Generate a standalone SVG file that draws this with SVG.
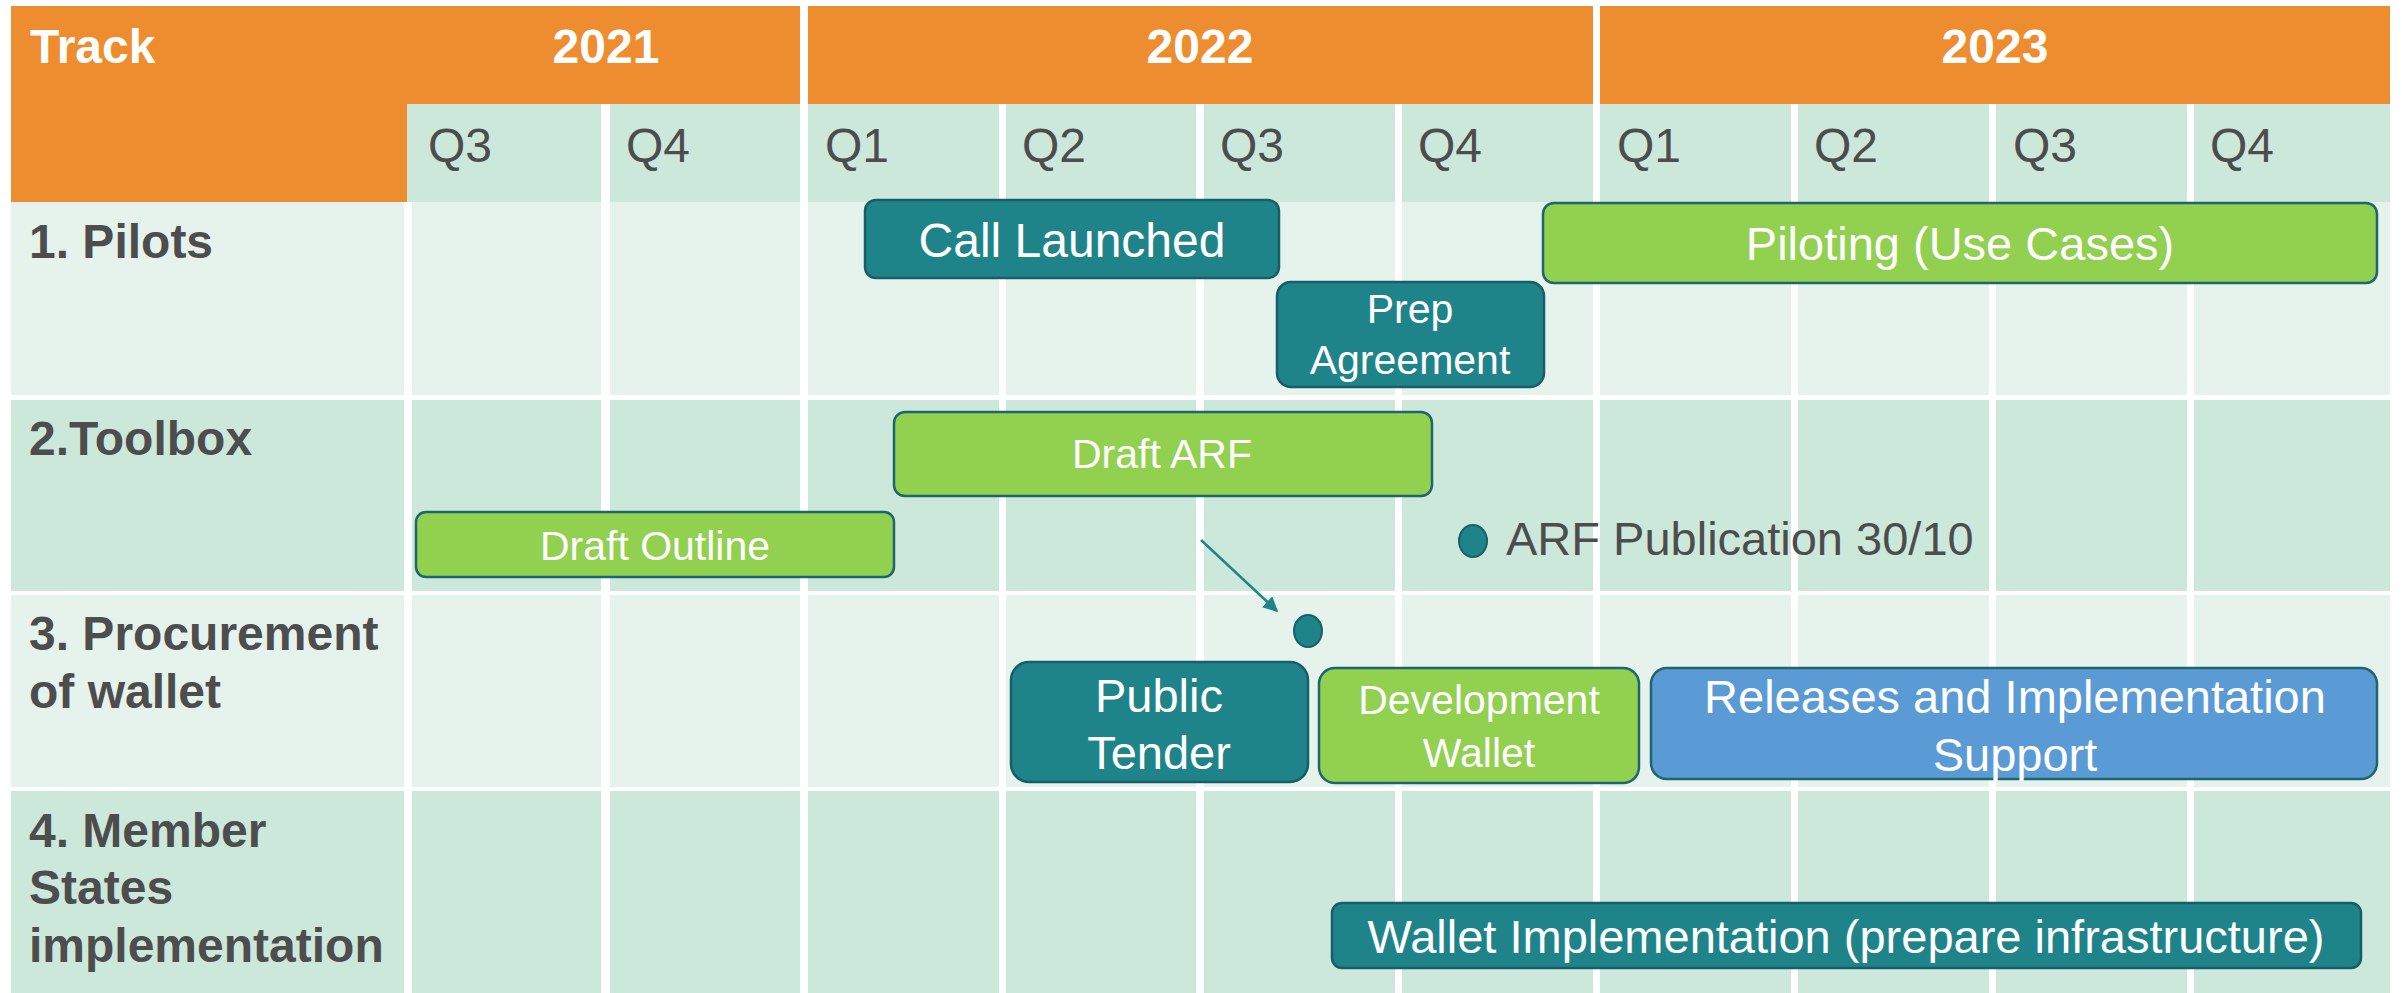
<svg xmlns="http://www.w3.org/2000/svg" width="2402" height="993" viewBox="0 0 2402 993">
<style>
.or{fill:#EE8D30}
.hd{fill:#CCE8DB}
.lt{fill:#E6F3EC}
.dk{fill:#CCE8DB}
.yr{font-family:"Liberation Sans",Arial,sans-serif;font-weight:bold;font-size:48px;fill:#FFFFFF;text-anchor:middle}
.trk{font-family:"Liberation Sans",Arial,sans-serif;font-weight:bold;font-size:48px;fill:#FFFFFF}
.q{font-family:"Liberation Sans",Arial,sans-serif;font-size:48px;fill:#4D4D4D}
.rl{font-family:"Liberation Sans",Arial,sans-serif;font-weight:bold;font-size:48px;fill:#4D4D4D}
.teal{fill:#1F8489;stroke:#175E68;stroke-width:2.5}
.green{fill:#92D050;stroke:#1F6570;stroke-width:2.5}
.blue{fill:#5B9BD5;stroke:#1F6570;stroke-width:2.5}
.bt{font-family:"Liberation Sans",Arial,sans-serif;font-size:47px;fill:#FFFFFF;text-anchor:middle}
.bs{font-family:"Liberation Sans",Arial,sans-serif;font-size:41px;fill:#FFFFFF;text-anchor:middle}
.ms{font-family:"Liberation Sans",Arial,sans-serif;font-size:47px;fill:#4D4D4D}
.dot{fill:#1F8489;stroke:#175E68;stroke-width:2}
</style>
<defs>
<marker id="ah" viewBox="0 0 10 10" refX="9" refY="5" markerWidth="6" markerHeight="6" orient="auto" markerUnits="strokeWidth">
<path d="M0,0 L10,5 L0,10 z" fill="#1F8489"/>
</marker>
</defs>
<rect x="0" y="0" width="2402" height="993" fill="#FFFFFF"/>
<g id="grid">
<rect class="or" x="11" y="6" width="789" height="98"/>
<rect class="or" x="11" y="104" width="396" height="98"/>
<rect class="or" x="808" y="6" width="785" height="98"/>
<rect class="or" x="1600" y="6" width="790" height="98"/>
<rect class="hd" x="407" y="104" width="194" height="98"/>
<rect class="hd" x="610" y="104" width="190" height="98"/>
<rect class="hd" x="808" y="104" width="191" height="98"/>
<rect class="hd" x="1006" y="104" width="190" height="98"/>
<rect class="hd" x="1204" y="104" width="191" height="98"/>
<rect class="hd" x="1402" y="104" width="191" height="98"/>
<rect class="hd" x="1600" y="104" width="191" height="98"/>
<rect class="hd" x="1798" y="104" width="191" height="98"/>
<rect class="hd" x="1996" y="104" width="191" height="98"/>
<rect class="hd" x="2194" y="104" width="196" height="98"/>
<g class="lt">
<rect x="11" y="202" width="393" height="193"/>
<rect x="412" y="202" width="189" height="193"/>
<rect x="610" y="202" width="190" height="193"/>
<rect x="808" y="202" width="191" height="193"/>
<rect x="1006" y="202" width="190" height="193"/>
<rect x="1204" y="202" width="191" height="193"/>
<rect x="1402" y="202" width="191" height="193"/>
<rect x="1600" y="202" width="191" height="193"/>
<rect x="1798" y="202" width="191" height="193"/>
<rect x="1996" y="202" width="191" height="193"/>
<rect x="2194" y="202" width="196" height="193"/>
</g>
<g class="dk">
<rect x="11" y="400" width="393" height="191"/>
<rect x="412" y="400" width="189" height="191"/>
<rect x="610" y="400" width="190" height="191"/>
<rect x="808" y="400" width="191" height="191"/>
<rect x="1006" y="400" width="190" height="191"/>
<rect x="1204" y="400" width="191" height="191"/>
<rect x="1402" y="400" width="191" height="191"/>
<rect x="1600" y="400" width="191" height="191"/>
<rect x="1798" y="400" width="191" height="191"/>
<rect x="1996" y="400" width="191" height="191"/>
<rect x="2194" y="400" width="196" height="191"/>
</g>
<g class="lt">
<rect x="11" y="595" width="393" height="192"/>
<rect x="412" y="595" width="189" height="192"/>
<rect x="610" y="595" width="190" height="192"/>
<rect x="808" y="595" width="191" height="192"/>
<rect x="1006" y="595" width="190" height="192"/>
<rect x="1204" y="595" width="191" height="192"/>
<rect x="1402" y="595" width="191" height="192"/>
<rect x="1600" y="595" width="191" height="192"/>
<rect x="1798" y="595" width="191" height="192"/>
<rect x="1996" y="595" width="191" height="192"/>
<rect x="2194" y="595" width="196" height="192"/>
</g>
<g class="dk">
<rect x="11" y="791" width="393" height="202"/>
<rect x="412" y="791" width="189" height="202"/>
<rect x="610" y="791" width="190" height="202"/>
<rect x="808" y="791" width="191" height="202"/>
<rect x="1006" y="791" width="190" height="202"/>
<rect x="1204" y="791" width="191" height="202"/>
<rect x="1402" y="791" width="191" height="202"/>
<rect x="1600" y="791" width="191" height="202"/>
<rect x="1798" y="791" width="191" height="202"/>
<rect x="1996" y="791" width="191" height="202"/>
<rect x="2194" y="791" width="196" height="202"/>
</g>
</g>
<g id="header-text">
<text class="trk" x="30" y="63">Track</text>
<text class="yr" x="606" y="63">2021</text>
<text class="yr" x="1200" y="63">2022</text>
<text class="yr" x="1995" y="63">2023</text>
<text class="q" x="428" y="162">Q3</text>
<text class="q" x="626" y="162">Q4</text>
<text class="q" x="825" y="162">Q1</text>
<text class="q" x="1022" y="162">Q2</text>
<text class="q" x="1220" y="162">Q3</text>
<text class="q" x="1418" y="162">Q4</text>
<text class="q" x="1617" y="162">Q1</text>
<text class="q" x="1814" y="162">Q2</text>
<text class="q" x="2013" y="162">Q3</text>
<text class="q" x="2210" y="162">Q4</text>
</g>
<g id="row-labels">
<text class="rl" x="29" y="258">1. Pilots</text>
<text class="rl" x="29" y="455">2.Toolbox</text>
<text class="rl" x="29" y="650">3. Procurement</text>
<text class="rl" x="29" y="708">of wallet</text>
<text class="rl" x="29" y="847">4. Member</text>
<text class="rl" x="29" y="904">States</text>
<text class="rl" x="29" y="962">implementation</text>
</g>
<g id="call-launched">
<rect class="teal" x="865" y="200" width="414" height="78" rx="11"/>
<text class="bt" x="1072" y="257" style="font-size:48px">Call Launched</text>
</g>
<g id="prep-agreement">
<rect class="teal" x="1277" y="282" width="267" height="105" rx="14"/>
<text class="bs" x="1410" y="323">Prep</text>
<text class="bs" x="1410" y="374">Agreement</text>
</g>
<g id="piloting">
<rect class="green" x="1543" y="203" width="834" height="80" rx="11"/>
<text class="bt" x="1960" y="260">Piloting (Use Cases)</text>
</g>
<g id="draft-arf">
<rect class="green" x="894" y="412" width="538" height="84" rx="11"/>
<text class="bs" x="1162" y="468">Draft ARF</text>
</g>
<g id="draft-outline">
<rect class="green" x="416" y="512" width="478" height="65" rx="10"/>
<text class="bs" x="655" y="560">Draft Outline</text>
</g>
<g id="arf-publication">
<ellipse class="dot" cx="1473" cy="541" rx="14" ry="16"/>
<text class="ms" x="1506" y="555">ARF Publication 30/10</text>
</g>
<g id="milestone">
<ellipse class="dot" cx="1308" cy="631" rx="14" ry="16"/>
</g>
<g id="public-tender">
<rect class="teal" x="1011" y="662" width="297" height="120" rx="18"/>
<text class="bt" x="1159" y="712">Public</text>
<text class="bt" x="1159" y="769">Tender</text>
</g>
<g id="development-wallet">
<rect class="green" x="1319" y="668" width="320" height="115" rx="16"/>
<text class="bs" x="1479" y="714">Development</text>
<text class="bs" x="1479" y="767">Wallet</text>
</g>
<g id="releases">
<rect class="blue" x="1651" y="668" width="726" height="111" rx="16"/>
<text class="bt" x="2015" y="713">Releases and Implementation</text>
<text class="bt" x="2015" y="771">Support</text>
</g>
<g id="wallet-implementation">
<rect class="teal" x="1332" y="903" width="1029" height="65" rx="10"/>
<text class="bt" x="1846" y="953">Wallet Implementation (prepare infrastructure)</text>
</g>
<g id="connectors">
<line x1="1201" y1="540" x2="1277" y2="611" stroke="#1F8489" stroke-width="2.5" marker-end="url(#ah)"/>
</g>
</svg>
